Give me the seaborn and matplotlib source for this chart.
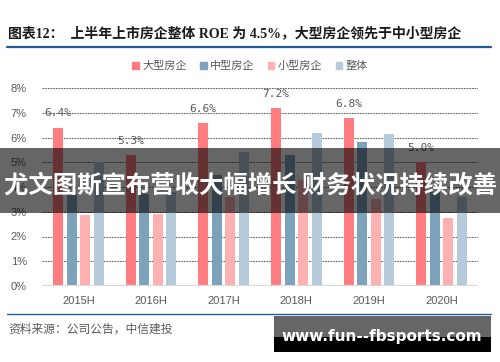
import numpy as np
import pandas as pd
import matplotlib
matplotlib.use("Agg")
import matplotlib.pyplot as plt
from matplotlib.patches import Rectangle
from matplotlib.lines import Line2D
import seaborn as sns

periods = ["2015H", "2016H", "2017H", "2018H", "2019H", "2020H"]
series_names = ["大型房企", "中型房企", "小型房企", "整体"]
large = [6.4, 5.3, 6.6, 7.2, 6.8, 5.0]
mid = [3.7, 3.7, 4.5, 5.3, 5.8, 3.8]
small = [2.85, 2.9, 3.6, 4.3, 3.5, 2.75]
overall = [5.0, 3.8, 5.4, 6.2, 6.15, 3.6]
yticks = [0, 1, 2, 3, 4, 5, 6, 7, 8]
colors = ["#FF7C80", "#7DA2BC", "#FFB0B0", "#B5CADA"]

title = "图表12：  上半年上市房企整体 ROE 为 4.5%，大型房企领先于中小型房企"
source = "资料来源：公司公告，中信建投"
banner = "尤文图斯宣布营收大幅增长 财务状况持续改善"
watermark = "www.fun--fbsports.com"

sns.set_style("white")
plt.rcParams["font.family"] = ["Liberation Sans", "Noto Sans CJK SC", "DejaVu Sans"]

rows = []
for name, vals in zip(series_names, [large, mid, small, overall]):
    for p, v in zip(periods, vals):
        rows.append({"period": p, "type": name, "roe": v})
df = pd.DataFrame(rows)

W, H = 500, 362
fig = plt.figure(figsize=(W / 100, H / 100), dpi=100)
ax = fig.add_axes([42 / W, 1 - 286 / H, (478 - 42) / W, (286 - 88) / H])

sns.barplot(data=df, x="period", y="roe", hue="type", hue_order=series_names,
            palette=colors, width=0.75, ax=ax, legend=False, errorbar=None,
            saturation=1)

bw = 0.1375
for p in ax.patches:
    c = p.get_x() + p.get_width() / 2
    p.set_x(c - bw / 2)
    p.set_width(bw)
    p.set_linewidth(0)

ax.set_xlim(-0.5, 5.5)
ax.set_ylim(0, 8)
ax.set_yticks(yticks)
ax.set_yticklabels([f"{t}%" for t in yticks])
ax.set_xlabel("")
ax.set_ylabel("")
for s in ax.spines.values():
    s.set_visible(False)
for t in yticks[1:]:
    ax.axhline(t, color="#404040", lw=0.6, ls=(0, (2, 1.2)), zorder=0)
ax.axhline(0, color="#D9D9D9", lw=1.5, zorder=3)
ax.tick_params(axis="y", length=0, pad=11, labelsize=8, labelcolor="#595959")
ax.tick_params(axis="x", length=0, pad=7, labelsize=8, labelcolor="#595959")

# data labels on large-company bars
large_patches = ax.patches[:len(periods)]
for p, v in zip(large_patches, large):
    ax.text(p.get_x() + p.get_width() / 2, v + 0.57, f"{v:.1f}%",
            ha="center", va="center", fontsize=8, color="#595959",
            family=["DejaVu Sans Mono"])

# title and rules
fig.text(8 / W, 1 - 33 / H, title, fontsize=10, fontweight="bold",
         color="#1a1a1a", ha="left", va="center",
         family=["Liberation Serif", "Noto Sans CJK SC"])
fig.add_artist(Line2D([7 / W, 491 / W], [1 - 47 / H, 1 - 47 / H],
                      color="#1F5C99", lw=1.6))
fig.add_artist(Line2D([7 / W, 491 / W], [1 - 314 / H, 1 - 314 / H],
                      color="#1F5C99", lw=1.0))
fig.text(8 / W, 1 - 329 / H, source, fontsize=8.5, color="#595959",
         ha="left", va="center", family=["Noto Sans CJK SC"])

# legend
handles = [Rectangle((0, 0), 1, 1, color=c) for c in colors]
fig.legend(handles, series_names, loc="center", bbox_to_anchor=(250 / W, 1 - 66 / H),
           ncol=4, frameon=False, fontsize=8, handlelength=0.6, handleheight=0.6,
           handletextpad=0.3, columnspacing=1.2, labelcolor="#595959",
           prop={"family": ["Noto Sans CJK SC"], "size": 8})

# overlay banner
fig.add_artist(Rectangle((0, 1 - 213 / H), 1, 65 / H, transform=fig.transFigure,
                         color="black", alpha=0.6, lw=0, zorder=10))
fig.text(0.5, 1 - 185 / H, banner, fontsize=17.6, fontweight="bold", color="white",
         ha="center", va="center", family=["Noto Sans CJK SC"], zorder=11)

# watermark
fig.add_artist(Rectangle((274 / W, 1 - 337 / H), 217 / W, 21 / H,
                         transform=fig.transFigure, color="#666666", lw=0, zorder=10))
fig.add_artist(Rectangle((274 / W, 1 - 352 / H), 217 / W, 15 / H,
                         transform=fig.transFigure, color="black", lw=0, zorder=10))
fig.text(382 / W, 1 - 337 / H, watermark, fontsize=11, fontweight="bold",
         color="white", ha="center", va="center", family=["DejaVu Sans"], zorder=11)

fig.savefig("out.png", dpi=100)
